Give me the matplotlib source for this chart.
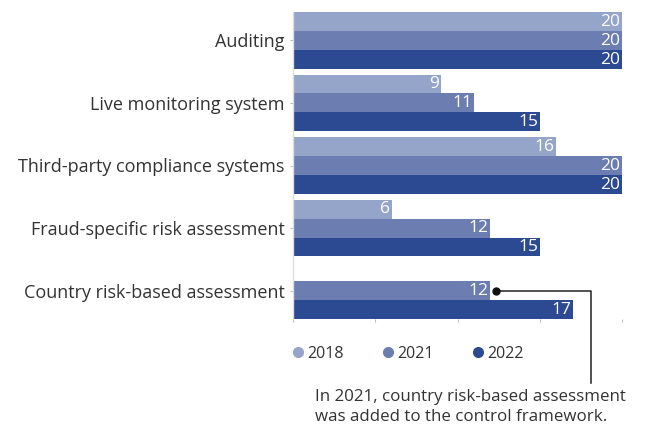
import matplotlib
matplotlib.use("Agg")
import matplotlib.pyplot as plt
from matplotlib.lines import Line2D
import numpy as np

categories = ["Auditing", "Live monitoring system", "Third-party compliance systems",
              "Fraud-specific risk assessment", "Country risk-based assessment"]
years = ["2018", "2021", "2022"]
v2018 = [20, 9, 16, 6, None]
v2021 = [20, 11, 20, 12, 12]
v2022 = [20, 15, 20, 15, 17]
series = [v2018, v2021, v2022]
colors = ["#95A4C9", "#6C7EB1", "#2C4A92"]
note = "In 2021, country risk-based assessment\nwas added to the control framework."

plt.rcParams['font.family'] = ['Open Sans', 'DejaVu Sans']

fig = plt.figure(figsize=(6.46, 4.25), dpi=100)
ax = fig.add_axes([293/646, 1-319/425, (622-293)/646, (319-12)/425])

group_step = 3.3
for gi, cat in enumerate(categories):
    for si, vals in enumerate(series):
        v = vals[gi]
        if v is None:
            continue
        yc = gi*group_step + 0.5 + si
        ax.barh(yc, v, height=1.0, color=colors[si], linewidth=0)
        ax.text(v - 0.1, yc + 0.02, str(v), ha='right', va='center', color='white', fontsize=12.5)

ax.set_xlim(0, 20)
ax.set_ylim(4*group_step + 3.0, 0)
ax.set_yticks([gi*group_step + 1.5 for gi in range(len(categories))])
ax.set_yticklabels(categories, fontsize=13, color='#333333')
ax.set_xticks([0, 5, 10, 15, 20])
ax.set_xticklabels([])
ax.tick_params(axis='y', length=2, color='#bbbbbb', pad=4)
ax.tick_params(axis='x', length=2, color='#bbbbbb', direction='out')
for s in ['top', 'right', 'bottom']:
    ax.spines[s].set_visible(False)
ax.spines['left'].set_color('#dddddd')
ax.spines['left'].set_linewidth(1)

# annotation line from the 2021 country bar
yc = 4*group_step + 1.5
x0, y0 = ax.transData.transform((v2021[4], yc))
inv = fig.transFigure.inverted()
p_dot = inv.transform((x0 + 6, y0))
p_corner = inv.transform((x0 + 101, y0))
p_end = (p_corner[0], 1 - 383/425)
fig.add_artist(Line2D([p_dot[0], p_corner[0], p_end[0]], [p_dot[1], p_corner[1], p_end[1]],
                      color='#222222', linewidth=1.1, transform=fig.transFigure))
fig.add_artist(Line2D([p_dot[0]], [p_dot[1]], marker='o', markersize=5, color='#111111',
                      transform=fig.transFigure))
fig.text(315/646, 1 - 407/425, note, ha='left', va='center', fontsize=12.2,
         color='#333333', linespacing=1.35)

handles = [Line2D([], [], marker='o', linestyle='none', markersize=7, color=c) for c in colors]
fig.legend(handles, years, loc='center left', bbox_to_anchor=(278/646, 1 - 354/425),
           ncol=3, frameon=False, fontsize=11.5, handlelength=0.7, handletextpad=0.25,
           columnspacing=2.4, labelcolor='#333333')

fig.savefig("out.png", dpi=100)
